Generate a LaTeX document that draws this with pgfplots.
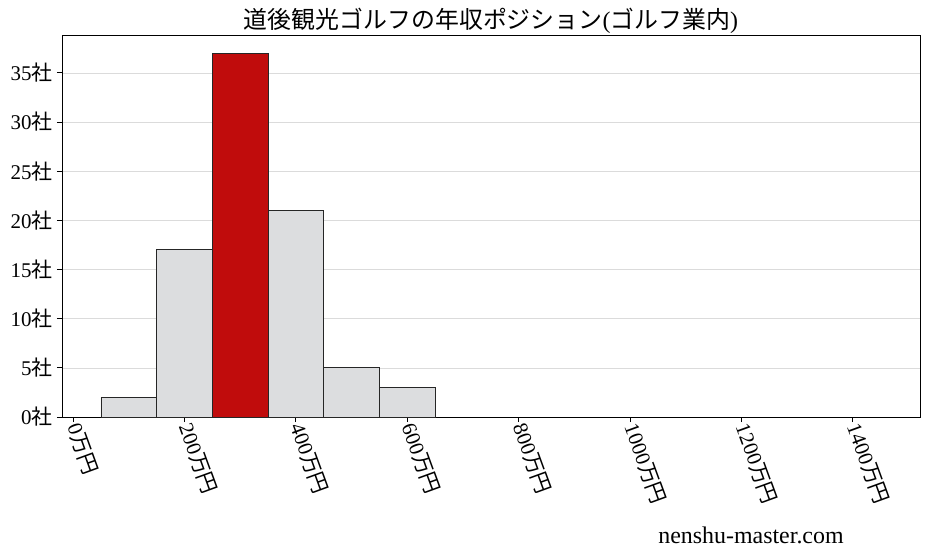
\documentclass[border=0pt]{standalone}
\usepackage{pgfplots}
\pgfplotsset{compat=1.18}
\usepackage{fontspec}
\setmainfont{Liberation Serif}
\newfontfamily\cjk{Noto Sans CJK JP}
\definecolor{barg}{HTML}{DCDDDF}
\definecolor{barr}{HTML}{C00C0C}
\begin{document}
\begin{tikzpicture}
\useasboundingbox (-62bp,-140bp) rectangle (866bp,417bp);
\begin{axis}[
  scale only axis,
  width=858bp, height=382bp,
  xmin=-20, xmax=1521,
  ymin=0, ymax=38.85,
  axis line style={line width=0.8pt},
  xtick={0,200,400,600,800,1000,1200,1400},
  xticklabels={0{\cjk 万円},200{\cjk 万円},400{\cjk 万円},600{\cjk 万円},800{\cjk 万円},1000{\cjk 万円},1200{\cjk 万円},1400{\cjk 万円}},
  ytick={0,5,10,15,20,25,30,35},
  yticklabels={0{\cjk 社},5{\cjk 社},10{\cjk 社},15{\cjk 社},20{\cjk 社},25{\cjk 社},30{\cjk 社},35{\cjk 社}},
  xtick pos=lower, ytick pos=left,
  tick align=outside,
  major tick length=5bp,
  tick style={line width=0.8pt, black},
  ticklabel style={font=\fontsize{21}{24}\selectfont},
  xticklabel style={rotate=-70, anchor=west, xshift=-1bp},
  yticklabel style={xshift=-1bp},
  ymajorgrids,
  grid style={color=black!14, line width=0.6pt},
  /pgf/number format/assume math mode=true,
]
\addplot[ybar, bar width=100, bar shift=0, fill=barg, draw=black!85, line width=0.7pt]
  coordinates {(100,2) (200,17) (400,21) (500,5) (600,3)};
\addplot[ybar, bar width=100, bar shift=0, fill=barr, draw=black!85, line width=0.7pt]
  coordinates {(300,37)};
\end{axis}
\node[anchor=base, font=\fontsize{24}{28}\selectfont] at (429bp,388bp)
  {{\cjk 道後観光ゴルフの年収ポジション}({\cjk ゴルフ業内})};
\node[anchor=base, font=\fontsize{24}{28}\selectfont] at (689bp,-126bp) {nenshu-master.com};
\end{tikzpicture}
\end{document}
